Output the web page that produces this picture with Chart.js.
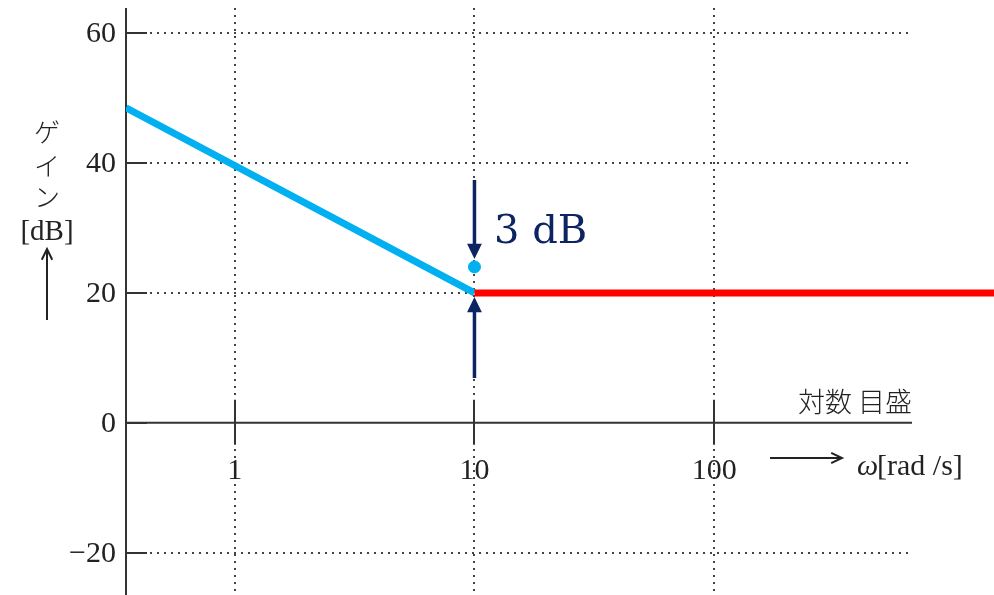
<!DOCTYPE html>
<html>
<head>
<meta charset="utf-8">
<script src="https://cdn.jsdelivr.net/npm/chart.js@4.4.1/dist/chart.umd.min.js"></script>
<style>
  html, body { margin: 0; padding: 0; background: #fff; }
  #wrap { width: 994px; height: 595px; }
</style>
</head>
<body>
<div id="wrap"><canvas id="bode" width="994" height="595"></canvas></div>
<script>
// values
var xMin = 0.352, xMax = 1469;
var yMin = -26.5, yMax = 63.85;
var xTicks = [1, 10, 100];
var xTickLabels = ["1", "10", "100"];
var yTicks = [60, 40, 20, 0, -20];
var yTickLabels = ["60", "40", "20", "0", "\u221220"];
var lowOmega = [0.352, 10];
var lowGain = [48.5, 20];
var highOmega = [10, 1469];
var highGain = [20, 20];
var dotOmega = [10];
var dotGain = [24];

function pairs(xs, ys) {
    var out = [];
    for (var i = 0; i < xs.length; i++) out.push({ x: xs[i], y: ys[i] });
    return out;
}

var ink = "#333333";
var navy = "#0c2461";
var serif = '"Liberation Serif", "DejaVu Serif", serif';
var jp = '"Noto Sans CJK JP", sans-serif';

function arrow(ctx, x1, y1, x2, y2, color, width, head, filled) {
    var ang = Math.atan2(y2 - y1, x2 - x1);
    ctx.save();
    ctx.strokeStyle = color;
    ctx.fillStyle = color;
    ctx.lineWidth = width;
    ctx.beginPath();
    ctx.moveTo(x1, y1);
    ctx.lineTo(filled ? x2 - Math.cos(ang) * head * 0.8 : x2, filled ? y2 - Math.sin(ang) * head * 0.8 : y2);
    ctx.stroke();
    var a1 = ang + Math.PI - 0.45, a2 = ang + Math.PI + 0.45;
    ctx.beginPath();
    ctx.moveTo(x2 + Math.cos(a1) * head, y2 + Math.sin(a1) * head);
    ctx.lineTo(x2, y2);
    ctx.lineTo(x2 + Math.cos(a2) * head, y2 + Math.sin(a2) * head);
    if (filled) { ctx.closePath(); ctx.fill(); } else { ctx.stroke(); }
    ctx.restore();
}

var framePlugin = {
    id: "frame",
    beforeDatasetsDraw: function (chart) {
        var ctx = chart.ctx;
        var xs = chart.scales.x, ys = chart.scales.y;
        var x0 = xs.getPixelForValue(xMin);
        var yZero = ys.getPixelForValue(0);
        var top = chart.chartArea.top, bottom = chart.chartArea.bottom;
        ctx.save();
        // dotted grid
        ctx.strokeStyle = "#444";
        ctx.lineWidth = 2;
        ctx.setLineDash([2, 5]);
        yTicks.forEach(function (v) {
            if (v === 0) return;
            var y = Math.round(ys.getPixelForValue(v));
            ctx.beginPath();
            ctx.moveTo(x0 + 24, y);
            ctx.lineTo(910, y);
            ctx.stroke();
        });
        xTicks.forEach(function (v) {
            var x = Math.round(xs.getPixelForValue(v));
            ctx.beginPath();
            ctx.moveTo(x, top);
            ctx.lineTo(x, bottom);
            ctx.stroke();
        });
        ctx.setLineDash([]);
        // axes
        ctx.strokeStyle = ink;
        ctx.lineWidth = 2;
        ctx.beginPath();
        ctx.moveTo(x0, top);
        ctx.lineTo(x0, bottom);
        ctx.moveTo(x0, yZero);
        ctx.lineTo(912, yZero);
        ctx.stroke();
        yTicks.forEach(function (v) {
            var y = Math.round(ys.getPixelForValue(v));
            ctx.beginPath();
            ctx.moveTo(x0, y);
            ctx.lineTo(x0 + 21, y);
            ctx.stroke();
        });
        xTicks.forEach(function (v) {
            var x = Math.round(xs.getPixelForValue(v));
            ctx.beginPath();
            ctx.moveTo(x, yZero - 23);
            ctx.lineTo(x, yZero + 22);
            ctx.stroke();
        });
        // tick labels
        ctx.fillStyle = "#222";
        ctx.font = "30px " + serif;
        ctx.textAlign = "right";
        ctx.textBaseline = "middle";
        yTicks.forEach(function (v, i) {
            ctx.fillText(yTickLabels[i], x0 - 10, ys.getPixelForValue(v) + 1);
        });
        ctx.textAlign = "center";
        xTicks.forEach(function (v, i) {
            ctx.fillText(xTickLabels[i], xs.getPixelForValue(v), yZero + 48);
        });
        // axis titles
        ctx.font = "300 26px " + jp;
        ctx.fillText("\u30B2", 47, 132);
        ctx.fillText("\u30A4", 47, 166);
        ctx.fillText("\u30F3", 47, 197);
        ctx.font = "29px " + serif;
        ctx.fillText("[dB]", 47, 232);
        arrow(ctx, 47, 320, 47, 249, "#222", 2, 12, false);
        ctx.font = "300 27px " + jp;
        ctx.textAlign = "right";
        ctx.fillText("\u5BFE\u6570 \u76EE\u76DB", 912, 402);
        arrow(ctx, 770, 458, 842, 458, "#222", 2, 12, false);
        ctx.textAlign = "left";
        ctx.font = "italic 30px " + serif;
        ctx.fillText("\u03C9", 857, 467);
        ctx.font = "30px " + serif;
        ctx.fillText("[rad /s]", 877, 467);
        ctx.restore();
    },
    afterDatasetsDraw: function (chart) {
        var ctx = chart.ctx;
        var xs = chart.scales.x;
        var xc = xs.getPixelForValue(10);
        ctx.save();
        arrow(ctx, xc, 180, xc, 259, navy, 3.5, 17, true);
        arrow(ctx, xc, 378, xc, 297, navy, 3.5, 17, true);
        ctx.fillStyle = navy;
        ctx.font = '40px "DejaVu Serif", serif';
        ctx.textAlign = "left";
        ctx.textBaseline = "alphabetic";
        ctx.fillText("3 dB", 494, 243);
        ctx.restore();
    }
};

var ctx = document.getElementById("bode").getContext("2d");
var bodeChart = new Chart(ctx, {
    type: "line",
    data: {
        datasets: [{
            data: pairs(lowOmega, lowGain),
            borderColor: "#00b0f0",
            borderWidth: 7,
            pointRadius: 0,
            borderCapStyle: "butt",
            order: 2
        }, {
            data: pairs(highOmega, highGain),
            borderColor: "#ff0000",
            borderWidth: 7,
            pointRadius: 0,
            borderCapStyle: "butt",
            order: 1
        }, {
            type: "scatter",
            data: pairs(dotOmega, dotGain),
            backgroundColor: "#00b0f0",
            borderColor: "#00b0f0",
            pointRadius: 6,
            order: 0
        }]
    },
    options: {
        responsive: false,
        animation: false,
        layout: { autoPadding: false, padding: { left: 126, right: 0, top: 8, bottom: 0 } },
        plugins: { legend: { display: false }, tooltip: { enabled: false } },
        scales: {
            x: { type: "logarithmic", min: xMin, max: xMax, display: false },
            y: { type: "linear", min: yMin, max: yMax, display: false }
        }
    },
    plugins: [framePlugin]
});
</script>
</body>
</html>
